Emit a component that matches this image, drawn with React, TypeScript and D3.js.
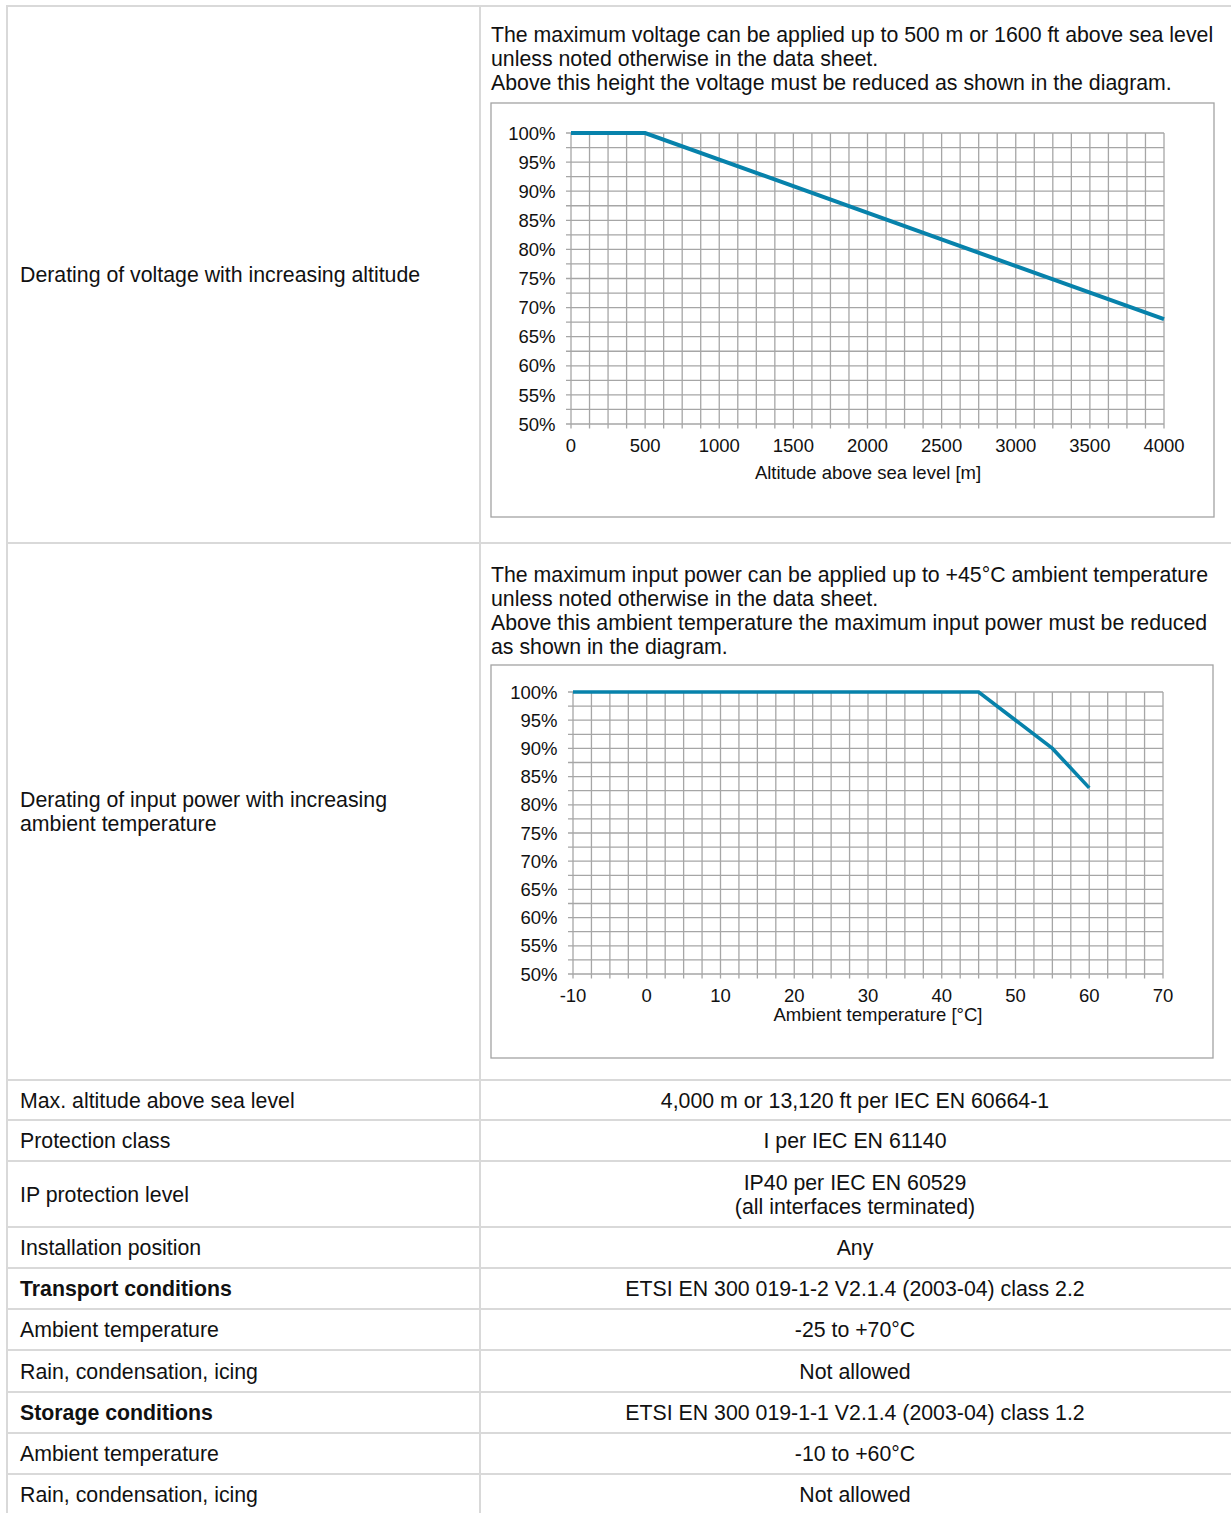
import React from "react";
import * as d3 from "d3";

// ---------- data ----------
const altitudeM = [0, 500, 4000];
const voltagePct = [100, 100, 68];
const altitudeTicks = [0, 500, 1000, 1500, 2000, 2500, 3000, 3500, 4000];
const altitudeMinorStep = 125;

const temperatureC = [-10, 45, 55, 60];
const powerPct = [100, 100, 90, 83];
const temperatureTicks = [-10, 0, 10, 20, 30, 40, 50, 60, 70];
const temperatureMinorStep = 2.5;

const percentTicks = [50, 55, 60, 65, 70, 75, 80, 85, 90, 95, 100];
const percentMinorStep = 2.5;

const paragraph1 = [
  "The maximum voltage can be applied up to 500 m or 1600 ft above sea level",
  "unless noted otherwise in the data sheet.",
  "Above this height the voltage must be reduced as shown in the diagram.",
];
const paragraph2 = [
  "The maximum input power can be applied up to +45°C ambient temperature",
  "unless noted otherwise in the data sheet.",
  "Above this ambient temperature the maximum input power must be reduced",
  "as shown in the diagram.",
];
const chartRowLabels = [
  ["Derating of voltage with increasing altitude"],
  ["Derating of input power with increasing", "ambient temperature"],
];
const rowLabels = [
  "Max. altitude above sea level",
  "Protection class",
  "IP protection level",
  "Installation position",
  "Transport conditions",
  "Ambient temperature",
  "Rain, condensation, icing",
  "Storage conditions",
  "Ambient temperature",
  "Rain, condensation, icing",
];
const rowValues = [
  ["4,000 m or 13,120 ft per IEC EN 60664-1"],
  ["I per IEC EN 61140"],
  ["IP40 per IEC EN 60529", "(all interfaces terminated)"],
  ["Any"],
  ["ETSI EN 300 019-1-2 V2.1.4 (2003-04) class 2.2"],
  ["-25 to +70°C"],
  ["Not allowed"],
  ["ETSI EN 300 019-1-1 V2.1.4 (2003-04) class 1.2"],
  ["-10 to +60°C"],
  ["Not allowed"],
];
const boldRows = [4, 7];

// ---------- layout ----------
const W = 1231;
const H = 1513;
const FONT = "'Liberation Sans', Arial, Helvetica, sans-serif";
const BODY = 21.3;
const CHART_FONT = 18.5;
const LINE_H = 24;
const TABLE_LEFT = 7;
const TABLE_MID = 480;
const TABLE_RIGHT = 1240;
const TABLE_TOP = 6;
const chartRowBottoms = [543, 1080];
const rowHeights = [40, 41, 66, 41, 41, 41, 42, 41, 41, 41];
const GRID = "#a6a6a6";
const BORDER = "#d9d9d9";
const LINE = "#0782ab";

type ChartProps = {
  frame: { l: number; t: number; r: number; b: number };
  plot: { l: number; t: number; r: number; b: number };
  xs: number[];
  ys: number[];
  xTicks: number[];
  xMinorStep: number;
  xTitle: string;
  tickBaseline: number;
  titleBaseline: number;
  titleX: number;
  lineWidth: number;
};

function DeratingChart(p: ChartProps) {
  const xDomain = [xTicksMin(p.xTicks), xTicksMax(p.xTicks)];
  const x = d3.scaleLinear().domain(xDomain).range([p.plot.l, p.plot.r]);
  const y = d3
    .scaleLinear()
    .domain([percentTicks[0], percentTicks[percentTicks.length - 1]])
    .range([p.plot.b, p.plot.t]);
  const xMinor = d3.range(xDomain[0], xDomain[1] + 1e-9, p.xMinorStep);
  const yMinor = d3.range(
    percentTicks[0],
    percentTicks[percentTicks.length - 1] + 1e-9,
    percentMinorStep
  );
  const line = d3
    .line<number>()
    .x((_, i) => x(p.xs[i]))
    .y((d) => y(d));
  return (
    <g>
      <rect
        x={p.frame.l}
        y={p.frame.t}
        width={p.frame.r - p.frame.l}
        height={p.frame.b - p.frame.t}
        fill="#fff"
        stroke="#a3a3a3"
        strokeWidth={1.3}
      />
      {xMinor.map((v, i) => (
        <line
          key={"vx" + i}
          x1={x(v)}
          x2={x(v)}
          y1={p.plot.t}
          y2={p.plot.b + 4.5}
          stroke={GRID}
          strokeWidth={1.3}
        />
      ))}
      {yMinor.map((v, i) => (
        <line
          key={"hy" + i}
          x1={p.plot.l - 5}
          x2={p.plot.r}
          y1={y(v)}
          y2={y(v)}
          stroke={GRID}
          strokeWidth={1.3}
        />
      ))}
      {percentTicks.map((v) => (
        <text
          key={"yl" + v}
          x={p.plot.l - 15.5}
          y={y(v) + CHART_FONT * 0.36}
          textAnchor="end"
          fontSize={CHART_FONT}
          fontFamily={FONT}
          fill="#111"
        >
          {v + "%"}
        </text>
      ))}
      {p.xTicks.map((v) => (
        <text
          key={"xl" + v}
          x={x(v)}
          y={p.tickBaseline}
          textAnchor="middle"
          fontSize={CHART_FONT}
          fontFamily={FONT}
          fill="#111"
        >
          {String(v)}
        </text>
      ))}
      <text
        x={p.titleX}
        y={p.titleBaseline}
        textAnchor="middle"
        fontSize={CHART_FONT}
        fontFamily={FONT}
        fill="#111"
      >
        {p.xTitle}
      </text>
      <path
        d={line(p.ys) || ""}
        fill="none"
        stroke={LINE}
        strokeWidth={p.lineWidth}
        strokeLinejoin="miter"
      />
    </g>
  );
}

function xTicksMin(t: number[]) {
  return d3.min(t) as number;
}
function xTicksMax(t: number[]) {
  return d3.max(t) as number;
}

function Paragraph({ lines, baseline }: { lines: string[]; baseline: number }) {
  return (
    <g>
      {lines.map((s, i) => (
        <text
          key={i}
          x={491}
          y={baseline + i * LINE_H}
          fontSize={BODY}
          fontFamily={FONT}
          fill="#111"
        >
          {s}
        </text>
      ))}
    </g>
  );
}

export default function App() {
  // table row boundaries
  const bounds: number[] = [TABLE_TOP, ...chartRowBottoms];
  let yy = chartRowBottoms[1];
  rowHeights.forEach((h) => {
    yy += h;
    bounds.push(yy);
  });
  const textAt = (center: number, n: number, i: number) =>
    center - ((n - 1) * LINE_H) / 2 + i * LINE_H + BODY * 0.36;

  return (
    <div style={{ position: "absolute", left: 0, top: 0 }}>
      <svg width={W} height={H} style={{ display: "block" }}>
        <rect x={0} y={0} width={W} height={H} fill="#fff" />
        {/* table grid */}
        {bounds.map((b, i) => (
          <line
            key={"hb" + i}
            x1={TABLE_LEFT}
            x2={TABLE_RIGHT}
            y1={b}
            y2={b}
            stroke={BORDER}
            strokeWidth={2}
          />
        ))}
        <line x1={TABLE_LEFT} x2={TABLE_LEFT} y1={TABLE_TOP - 1} y2={H + 5} stroke={BORDER} strokeWidth={2} />
        <line x1={TABLE_MID} x2={TABLE_MID} y1={TABLE_TOP - 1} y2={H + 5} stroke={BORDER} strokeWidth={2} />

        {/* chart row labels */}
        {chartRowLabels.map((lines, r) => {
          const c = (bounds[r] + bounds[r + 1]) / 2;
          return lines.map((s, i) => (
            <text
              key={"cl" + r + "_" + i}
              x={20}
              y={textAt(c, lines.length, i)}
              fontSize={BODY}
              fontFamily={FONT}
              fill="#111"
            >
              {s}
            </text>
          ));
        })}

        <Paragraph lines={paragraph1} baseline={42} />
        <Paragraph lines={paragraph2} baseline={582} />

        <DeratingChart
          frame={{ l: 491, t: 103, r: 1214, b: 517 }}
          plot={{ l: 571, t: 133, r: 1164, b: 424 }}
          xs={altitudeM}
          ys={voltagePct}
          xTicks={altitudeTicks}
          xMinorStep={altitudeMinorStep}
          xTitle="Altitude above sea level [m]"
          tickBaseline={452}
          titleBaseline={479}
          titleX={868}
          lineWidth={4}
        />
        <DeratingChart
          frame={{ l: 491, t: 665, r: 1213, b: 1058 }}
          plot={{ l: 573, t: 692, r: 1163, b: 974 }}
          xs={temperatureC}
          ys={powerPct}
          xTicks={temperatureTicks}
          xMinorStep={temperatureMinorStep}
          xTitle="Ambient temperature [°C]"
          tickBaseline={1002}
          titleBaseline={1021}
          titleX={878}
          lineWidth={3.6}
        />

        {/* simple rows */}
        {rowLabels.map((s, r) => {
          const top = bounds[r + 2];
          const bot = bounds[r + 3];
          const c = (top + bot) / 2;
          const bold = boldRows.includes(r);
          const vals = rowValues[r];
          return (
            <g key={"row" + r}>
              <text
                x={20}
                y={textAt(c, 1, 0)}
                fontSize={BODY}
                fontFamily={FONT}
                fontWeight={bold ? "bold" : "normal"}
                fill="#111"
              >
                {s}
              </text>
              {vals.map((v, i) => (
                <text
                  key={i}
                  x={855}
                  y={textAt(c, vals.length, i)}
                  textAnchor="middle"
                  fontSize={BODY}
                  fontFamily={FONT}
                  fill="#111"
                >
                  {v}
                </text>
              ))}
            </g>
          );
        })}
      </svg>
    </div>
  );
}
